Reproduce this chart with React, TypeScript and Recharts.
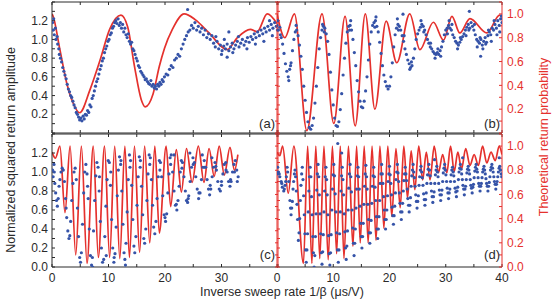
import { ComposedChart, Scatter, Line, XAxis, YAxis } from 'recharts';

const FONT = '"Liberation Sans", Arial, sans-serif';
const RED = '#e5312d';
const BLUE = '#3553a8';
const INK = '#2a2a2a';

const xTicks = [0, 5, 10, 15, 20, 25, 30, 35, 40];
const leftTicks = [0, 0.1, 0.2, 0.3, 0.4, 0.5, 0.6, 0.7, 0.8, 0.9, 1.0, 1.1, 1.2, 1.3, 1.4];
const rightTicks = [0, 0.1, 0.2, 0.3, 0.4, 0.5, 0.6, 0.7, 0.8, 0.9, 1.0, 1.1];
const upperLeftLabels = [0.2, 0.4, 0.6, 0.8, 1.0, 1.2];
const lowerLeftLabels = [0, 0.2, 0.4, 0.6, 0.8, 1.0, 1.2];
const upperRightLabels = [0.2, 0.4, 0.6, 0.8, 1.0];
const lowerRightLabels = [0, 0.2, 0.4, 0.6, 0.8, 1.0];
const cXLabels = [0, 10, 20, 30];
const dXLabels = [0, 10, 20, 30, 40];

// (a) measured
const aDots = [
  [0.1, 1.18], [0.2, 1.1], [0.3, 1.22], [0.4, 1.05], [0.6, 1.12], [0.7, 1.0], [0.9, 1.03], [1.0, 0.95], [1.2, 0.9], [1.3, 0.84],
  [1.5, 0.8], [1.7, 0.76], [1.9, 0.7], [2.1, 0.66], [2.3, 0.62], [2.5, 0.58], [2.7, 0.52], [2.9, 0.47], [3.1, 0.44], [3.3, 0.4],
  [3.5, 0.38], [3.7, 0.34], [3.9, 0.3], [4.1, 0.27], [4.3, 0.22], [4.5, 0.2], [4.7, 0.17], [4.9, 0.14], [5.1, 0.16], [5.3, 0.13],
  [5.5, 0.18], [5.7, 0.15], [5.9, 0.2], [6.1, 0.19], [6.3, 0.24], [6.5, 0.22], [6.7, 0.3], [6.9, 0.28], [7.1, 0.37], [7.3, 0.4],
  [7.5, 0.45], [7.7, 0.5], [7.9, 0.55], [8.1, 0.58], [8.3, 0.63], [8.5, 0.68], [8.7, 0.72], [8.9, 0.77], [9.1, 0.8], [9.3, 0.86],
  [9.5, 0.9], [9.7, 0.93], [9.9, 0.98], [10.1, 1.0], [10.3, 1.05], [10.5, 1.07], [10.7, 1.12], [10.9, 1.14], [11.1, 1.18], [11.3, 1.2],
  [11.5, 1.17], [11.7, 1.22], [11.9, 1.15], [12.1, 1.18], [12.3, 1.12], [12.5, 1.16], [12.7, 1.08], [12.9, 1.12], [13.1, 1.05], [13.3, 1.02],
  [13.5, 1.06], [13.7, 0.98], [13.9, 0.95], [14.1, 0.97], [14.3, 0.9], [14.5, 0.88], [14.7, 0.84], [14.9, 0.8], [15.1, 0.77], [15.3, 0.72],
  [15.5, 0.7], [15.7, 0.66], [15.9, 0.64], [16.1, 0.62], [16.3, 0.6], [16.5, 0.57], [16.7, 0.58], [16.9, 0.55], [17.1, 0.53], [17.3, 0.52],
  [17.5, 0.56], [17.7, 0.5], [17.9, 0.52], [18.1, 0.48], [18.3, 0.5], [18.5, 0.47], [18.7, 0.52], [18.9, 0.5], [19.1, 0.54], [19.3, 0.52],
  [19.5, 0.57], [19.7, 0.55], [19.9, 0.6], [20.2, 0.63], [20.5, 0.62], [20.8, 0.68], [21.1, 0.72], [21.4, 0.7], [21.7, 0.78], [22.0, 0.8],
  [22.3, 0.84], [22.6, 0.82], [22.9, 0.9], [23.2, 0.95], [23.5, 1.0], [23.8, 1.04], [24.0, 1.32], [24.1, 1.08], [24.4, 1.1], [24.7, 1.15],
  [25.0, 1.12], [25.3, 1.18], [25.6, 1.1], [25.9, 1.14], [26.2, 1.08], [26.5, 1.12], [26.8, 1.05], [27.1, 1.1], [27.4, 1.02], [27.7, 1.06],
  [28.0, 1.0], [28.3, 1.04], [28.6, 0.96], [28.9, 0.92], [29.0, 1.03], [29.2, 0.98], [29.5, 0.9], [29.8, 0.94], [30.0, 0.84], [30.1, 0.88],
  [30.4, 0.93], [30.5, 1.0], [30.7, 0.9], [31.0, 0.95], [31.0, 0.81], [31.3, 0.88], [31.3, 1.08], [31.6, 0.92], [31.9, 0.96], [32.0, 0.86],
  [32.2, 0.9], [32.5, 0.94], [32.8, 0.98], [33.0, 1.03], [33.1, 0.92], [33.4, 0.96], [33.7, 1.0], [34.0, 0.94], [34.3, 0.98], [34.5, 0.9],
  [34.6, 1.02], [34.9, 0.97], [35.2, 1.03], [35.5, 1.0], [35.8, 1.06], [36.0, 0.95], [36.1, 1.02], [36.4, 1.08], [36.7, 1.04], [37.0, 1.1],
  [37.3, 1.06], [37.5, 0.98], [37.6, 1.12], [37.9, 1.08], [38.2, 1.14], [38.5, 1.1], [38.5, 1.2], [38.8, 1.16], [39.0, 1.04], [39.1, 1.12],
  [39.4, 1.18], [39.7, 1.14], [39.9, 1.1],
];
// (a) theory
const aTheory = [
  [0, 1.0], [0.2, 0.98], [1.4, 0.7], [2.6, 0.42], [3.75, 0.25], [4.9, 0.17], [6.7, 0.36], [8.5, 0.61], [10.2, 0.87], [12.2, 0.99],
  [13.4, 0.89], [14.6, 0.56], [15.8, 0.28], [16.5, 0.22], [17.9, 0.33], [19.0, 0.56], [19.9, 0.71], [21.3, 0.87], [23.4, 1.0], [25.4, 0.95],
  [27.8, 0.84], [31.0, 0.7], [32.8, 0.8], [35.1, 0.87], [36.3, 0.85], [38.1, 1.0], [39.8, 0.92],
];

// (b) measured
const bDots = [
  [0.0, 1.15], [0.25, 1.1], [0.5, 1.13], [0.75, 1.02], [1.0, 0.95], [1.25, 0.85], [1.5, 0.74], [1.75, 0.66], [2.0, 0.6], [2.25, 0.68],
  [2.5, 0.75], [2.75, 0.88], [3.0, 1.0], [3.25, 1.08], [3.5, 1.1], [3.75, 1.04], [4.0, 0.94], [4.25, 0.82], [4.5, 0.68], [4.75, 0.5],
  [5.0, 0.35], [5.25, 0.22], [5.5, 0.12], [5.75, 0.06], [6.0, 0.04], [6.25, 0.08], [6.5, 0.16], [6.75, 0.32], [7.0, 0.5], [7.25, 0.7],
  [7.5, 0.9], [7.75, 1.02], [8.0, 1.1], [8.25, 1.14], [8.5, 1.12], [8.75, 1.06], [9.0, 0.98], [9.25, 0.84], [9.5, 0.65], [9.75, 0.46],
  [10.0, 0.3], [10.25, 0.16], [10.5, 0.08], [10.75, 0.07], [11.0, 0.12], [11.25, 0.25], [11.5, 0.42], [11.75, 0.62], [12.0, 0.8], [12.25, 0.96],
  [12.5, 1.08], [12.75, 1.14], [13.0, 1.15], [13.25, 1.1], [13.5, 1.0], [13.75, 0.86], [14.0, 0.72], [14.25, 0.56], [14.5, 0.44], [14.75, 0.34],
  [15.0, 0.28], [15.25, 0.27], [15.5, 0.34], [15.75, 0.45], [16.0, 0.6], [16.25, 0.78], [16.5, 0.95], [16.75, 1.08], [17.0, 1.15], [17.25, 1.18],
  [17.5, 1.2], [17.75, 1.14], [18.0, 1.08], [18.25, 0.97], [18.5, 0.85], [18.75, 0.72], [19.0, 0.62], [19.25, 0.55], [19.5, 0.5], [19.75, 0.47],
  [20.0, 0.5], [20.25, 0.6], [20.5, 0.75], [20.75, 0.92], [21.0, 1.05], [21.25, 1.12], [21.5, 1.16], [21.75, 1.14], [22.0, 1.1], [22.25, 1.04],
  [22.5, 0.98], [22.75, 0.9], [23.0, 0.84], [23.25, 0.78], [23.5, 0.74], [23.75, 0.7], [24.0, 0.72], [24.25, 0.8], [24.5, 0.9], [24.75, 1.0],
  [25.0, 1.06], [25.25, 1.1], [25.5, 1.13], [25.75, 1.16], [26.0, 1.14], [26.25, 1.1], [26.5, 1.05], [26.75, 1.0], [27.0, 0.96], [27.25, 0.92],
  [27.5, 0.9], [27.75, 0.87], [28.0, 0.85], [28.25, 0.84], [28.5, 0.86], [28.75, 0.84], [29.0, 0.88], [29.25, 0.92], [29.5, 0.98], [29.75, 1.05],
  [30.0, 1.1], [30.25, 1.12], [30.5, 1.15], [30.75, 1.12], [31.0, 1.1], [31.25, 1.05], [31.5, 1.02], [31.75, 0.98], [32.0, 0.96], [32.25, 0.94],
  [32.5, 0.97], [32.75, 1.0], [33.0, 1.03], [33.25, 1.06], [33.5, 1.1], [33.75, 1.13], [34.0, 1.16], [34.25, 1.12], [34.5, 1.18], [34.75, 1.14],
  [35.0, 1.1], [35.25, 1.05], [35.5, 1.0], [35.75, 0.98], [36.0, 0.96], [36.25, 1.0], [36.5, 0.94], [36.75, 0.98], [37.0, 1.02], [37.25, 0.97],
  [37.5, 1.04], [37.75, 1.08], [38.0, 1.05], [38.25, 1.12], [38.5, 1.1], [38.75, 1.16], [39.0, 1.12], [39.25, 1.2], [39.5, 1.15], [39.75, 1.22],
  [40.0, 1.18],
  [0.1, 1.2], [0.6, 1.05], [2.1, 0.56], [2.4, 0.72], [3.4, 1.15], [8.1, 1.16], [8.4, 1.08], [12.9, 1.1], [13.1, 1.2], [17.4, 1.13],
  [17.6, 1.24], [21.4, 1.22], [21.6, 1.1], [22.4, 1.27], [22.6, 1.04], [23.6, 0.68], [23.9, 0.76], [25.6, 1.2], [26.1, 1.08], [27.3, 0.96],
  [28.1, 0.8], [28.6, 0.9], [29.1, 0.82], [30.3, 1.06], [30.6, 1.2], [31.1, 1.16], [32.1, 0.9], [32.6, 1.02], [33.6, 1.04], [34.1, 1.1],
  [34.2, 1.3], [35.1, 1.16], [35.6, 0.92], [36.1, 1.02], [36.2, 0.82], [36.6, 0.9], [37.1, 0.95], [37.6, 1.1], [38.1, 0.98], [38.6, 1.2],
  [39.1, 1.05], [39.6, 1.08], [39.9, 1.25],
];
// (b) theory
const bTheory = [
  [0, 1.0], [1.4, 0.8], [3.1, 1.0], [5.3, 0.02], [8.0, 1.0], [10.1, 0.08], [12.1, 0.98], [13.9, 0.06], [15.7, 1.0], [17.4, 0.2],
  [19.4, 0.94], [21.3, 0.59], [23.6, 1.0], [25.4, 0.7], [27.8, 0.93], [29.6, 0.78], [31.1, 0.98], [32.5, 0.84], [34.3, 0.96], [37.3, 0.84],
  [39.6, 0.99], [40, 0.98],
];

// (c) measured
const cDots = [
  [0.1, 1.02], [0.2, 0.95], [0.35, 1.08], [0.5, 0.88], [0.65, 0.78], [0.8, 0.7], [0.95, 0.64], [1.1, 0.72], [1.25, 0.85], [1.4, 0.92],
  [1.6, 1.0], [1.8, 1.04], [2.0, 1.02], [2.2, 0.9], [2.4, 0.72], [2.6, 0.52], [2.8, 0.38], [3.0, 0.3], [3.15, 0.33], [3.3, 0.48],
  [3.5, 0.7], [3.7, 0.88], [3.9, 1.0], [4.1, 1.04], [4.3, 0.92], [4.5, 0.62], [4.7, 0.32], [4.9, 0.1], [5.05, 0.05], [5.2, 0.15],
  [5.4, 0.45], [5.6, 0.78], [5.8, 1.0], [6.0, 1.08], [6.2, 0.98], [6.4, 0.72], [6.6, 0.4], [6.8, 0.12], [7.0, 0.02], [7.15, 0.1],
  [7.35, 0.38], [7.55, 0.7], [7.75, 0.96], [7.95, 1.1], [8.15, 1.05], [8.35, 0.8], [8.55, 0.48], [8.75, 0.2], [8.95, 0.05], [9.15, 0.08],
  [9.35, 0.32], [9.55, 0.64], [9.75, 0.92], [9.95, 1.12], [10.15, 1.1], [10.35, 0.86], [10.55, 0.5], [10.75, 0.2], [10.95, 0.05], [11.15, 0.14],
  [11.35, 0.42], [11.55, 0.75], [11.75, 1.02], [11.95, 1.16], [12.15, 1.08], [12.35, 0.8], [12.55, 0.45], [12.75, 0.15], [12.9, 0.08], [13.1, 0.25],
  [13.3, 0.58], [13.5, 0.92], [13.7, 1.18], [13.9, 1.12], [14.1, 0.86], [14.3, 0.5], [14.5, 0.22], [14.65, 0.15], [14.85, 0.32], [15.05, 0.65],
  [15.25, 0.95], [15.45, 1.16], [15.65, 1.12], [15.85, 0.85], [16.05, 0.55], [16.25, 0.3], [16.4, 0.25], [16.6, 0.4], [16.8, 0.7], [17.0, 0.98],
  [17.2, 1.18], [17.4, 1.15], [17.6, 0.92], [17.8, 0.65], [18.0, 0.42], [18.2, 0.35], [18.4, 0.48], [18.6, 0.72], [18.8, 0.95], [19.0, 1.12],
  [19.2, 1.1], [19.4, 0.95], [19.6, 0.75], [19.85, 0.55], [20.1, 0.48], [20.3, 0.56], [20.5, 0.78], [20.7, 0.98], [20.9, 1.15], [21.1, 1.18],
  [21.35, 1.0], [21.6, 0.8], [21.85, 0.65], [22.1, 0.6], [22.3, 0.7], [22.5, 0.85], [22.7, 1.0], [22.9, 1.12], [23.1, 1.1], [23.35, 0.95],
  [23.6, 0.8], [23.8, 0.7], [24.0, 0.68], [24.2, 0.75], [24.45, 0.9], [24.7, 1.05], [24.95, 1.15], [25.2, 1.1], [25.45, 0.95], [25.7, 0.82],
  [25.95, 0.72], [26.2, 0.78], [26.45, 0.92], [26.7, 1.05], [26.95, 1.12], [27.2, 1.05], [27.45, 0.92], [27.7, 0.82], [27.9, 0.76], [28.1, 0.82],
  [28.35, 0.95], [28.6, 1.05], [28.85, 1.1], [29.1, 1.02], [29.35, 0.9], [29.6, 0.82], [29.8, 0.8], [30.0, 0.86], [30.25, 0.98], [30.5, 1.08],
  [30.75, 1.1], [31.0, 1.0], [31.25, 0.9], [31.5, 0.85], [31.7, 0.9], [31.95, 1.0], [32.2, 1.08], [32.45, 1.12], [32.7, 1.02], [32.95, 0.95],
  [0.4, 1.0], [2.5, 0.62], [6.3, 0.85], [7.2, 0.0], [8.4, 0.95], [9.6, 0.12], [10.4, 1.0], [11.0, 0.1], [12.2, 1.12], [13.0, 0.02],
  [13.8, 1.05], [15.6, 1.05], [17.3, 1.08], [19.1, 1.02], [20.0, 0.52], [21.0, 1.08], [21.6, 1.18], [22.0, 0.66], [23.0, 1.04], [24.1, 0.72],
  [24.4, 1.2], [25.0, 1.08], [26.0, 0.78], [26.6, 1.18], [27.0, 1.05], [28.0, 0.86], [28.3, 1.15], [29.0, 1.06], [30.0, 0.9], [30.8, 1.02],
  [31.6, 0.92], [32.3, 1.0], [32.8, 0.9],
];
// (c) theory
const cTheory = [
  [0, 0.95], [0.6, 0.9], [1.4, 1.0], [2.3, 0.45], [3.2, 1.0], [4.2, 0.1], [5.2, 1.0], [6.2, 0.03], [7.3, 1.0], [8.2, 0.08],
  [9.3, 1.0], [10.2, 0.08], [11.1, 1.0], [12.0, 0.07], [12.9, 1.0], [13.7, 0.08], [14.6, 1.0], [15.5, 0.12], [16.4, 1.0], [17.3, 0.2],
  [18.2, 1.0], [19.0, 0.28], [20.2, 1.0], [21.0, 0.5], [22.0, 0.97], [22.9, 0.62], [23.8, 0.98], [24.8, 0.7], [25.9, 1.0], [26.9, 0.7],
  [27.8, 0.98], [28.7, 0.75], [29.6, 1.0], [30.5, 0.76], [31.5, 0.99], [32.3, 0.8], [32.9, 0.93],
];

// (d) measured
const dDots = [
  [0.0, 0.98], [0.25, 1.0], [0.5, 0.95], [0.75, 0.9], [0.95, 0.84], [1.2, 0.8], [1.43, 0.86], [1.66, 0.95], [1.9, 1.0], [2.1, 0.9],
  [2.3, 0.7], [2.5, 0.55], [2.73, 0.69], [2.96, 0.9], [3.2, 1.02], [3.43, 0.8], [3.66, 0.5],
  [3.8, 0.28], [4.03, 0.51], [4.26, 0.86], [4.5, 1.05], [4.73, 0.75], [4.96, 0.35],
  [5.2, 0.05], [5.43, 0.35], [5.66, 0.8], [5.9, 1.05], [6.13, 0.74], [6.36, 0.32],
  [6.6, 0.0], [6.83, 0.32], [7.06, 0.81], [7.3, 1.08], [7.53, 0.76], [7.76, 0.35],
  [8.0, 0.03], [8.23, 0.34], [8.46, 0.8], [8.7, 1.05], [8.93, 0.76], [9.16, 0.33],
  [9.4, 0.02], [9.63, 0.34], [9.86, 0.82], [10.1, 1.08], [10.35, 0.77], [10.6, 0.36],
  [10.9, 0.05], [11.13, 0.35], [11.36, 0.8], [11.6, 1.05], [11.83, 0.76], [12.06, 0.37],
  [12.3, 0.08], [12.53, 0.38], [12.76, 0.83], [13.0, 1.08], [13.23, 0.79], [13.46, 0.41],
  [13.7, 0.12], [13.93, 0.4], [14.16, 0.82], [14.4, 1.05], [14.63, 0.82], [14.86, 0.46],
  [15.1, 0.2], [15.33, 0.46], [15.56, 0.85], [15.8, 1.07], [16.03, 0.82], [16.26, 0.5],
  [16.5, 0.25], [16.73, 0.49], [16.96, 0.85], [17.2, 1.05], [17.43, 0.84], [17.66, 0.53],
  [17.9, 0.3], [18.13, 0.53], [18.36, 0.88], [18.6, 1.08], [18.83, 0.88], [19.06, 0.6],
  [19.3, 0.4], [19.53, 0.6], [19.76, 0.9], [20.0, 1.06], [20.23, 0.88], [20.46, 0.63],
  [20.7, 0.45], [20.93, 0.64], [21.16, 0.92], [21.4, 1.08], [21.63, 0.9], [21.86, 0.67],
  [22.1, 0.5], [22.33, 0.67], [22.56, 0.91], [22.8, 1.05], [23.03, 0.91], [23.26, 0.72],
  [23.5, 0.58], [23.73, 0.73], [23.96, 0.96], [24.2, 1.08], [24.43, 0.94], [24.66, 0.76],
  [24.9, 0.62], [25.13, 0.75], [25.36, 0.95], [25.6, 1.06], [25.83, 0.94], [26.06, 0.77],
  [26.3, 0.65], [26.53, 0.78], [26.76, 0.97], [27.0, 1.08], [27.23, 0.96], [27.46, 0.8],
  [27.7, 0.68], [27.93, 0.79], [28.16, 0.97], [28.4, 1.06], [28.63, 0.95], [28.86, 0.81],
  [29.1, 0.7], [29.33, 0.81], [29.56, 0.99], [29.8, 1.08], [30.03, 0.97], [30.26, 0.83],
  [30.5, 0.72], [30.73, 0.82], [30.96, 0.97], [31.2, 1.05], [31.43, 0.96], [31.66, 0.83],
  [31.9, 0.74], [32.13, 0.84], [32.36, 1.0], [32.6, 1.08], [32.83, 0.98], [33.06, 0.86],
  [33.3, 0.76], [33.53, 0.85], [33.76, 0.99], [34.0, 1.06], [34.23, 0.98], [34.46, 0.86],
  [34.7, 0.78], [34.93, 0.87], [35.16, 1.01], [35.4, 1.08], [35.63, 1.0], [35.86, 0.88],
  [36.1, 0.8], [36.33, 0.88], [36.56, 1.0], [36.8, 1.06], [37.03, 0.98], [37.26, 0.88],
  [37.5, 0.8], [37.73, 0.89], [37.96, 1.02], [38.2, 1.08], [38.43, 1.0], [38.66, 0.9],
  [38.9, 0.82], [39.13, 0.9], [39.36, 1.0], [39.6, 1.06], [39.85, 0.98],
  // second sweep
  [0.12, 1.05], [0.4, 0.98], [0.85, 0.88], [1.3, 0.82], [1.55, 0.9], [1.8, 1.05],
  [2.4, 0.62], [2.62, 0.62], [2.85, 0.82], [3.1, 0.98], [3.3, 0.95], [3.55, 0.66],
  [3.92, 0.36], [4.15, 0.7], [4.38, 0.98], [4.62, 0.92], [4.85, 0.55], [5.08, 0.18],
  [5.32, 0.18], [5.55, 0.58], [5.78, 0.95], [6.02, 0.95], [6.25, 0.55], [6.48, 0.15],
  [6.72, 0.12], [6.95, 0.56], [7.18, 0.98], [7.42, 0.95], [7.65, 0.56], [7.88, 0.15],
  [8.12, 0.16], [8.35, 0.58], [8.58, 0.95], [8.82, 0.92], [9.05, 0.55], [9.28, 0.14],
  [9.52, 0.15], [9.75, 0.6], [9.98, 0.97], [10.22, 0.96], [10.48, 0.58], [10.75, 0.18],
  [11.02, 0.18], [11.25, 0.58], [11.48, 0.96], [11.72, 0.92], [11.95, 0.56], [12.18, 0.2],
  [12.42, 0.22], [12.65, 0.6], [12.88, 0.98], [13.12, 0.95], [13.35, 0.6], [13.58, 0.25],
  [13.82, 0.25], [14.05, 0.62], [14.28, 0.96], [14.52, 0.95], [14.75, 0.64], [14.98, 0.32],
  [15.22, 0.32], [15.45, 0.66], [15.68, 0.98], [15.92, 0.95], [16.15, 0.66], [16.38, 0.36],
  [16.62, 0.36], [16.85, 0.67], [17.08, 0.96], [17.32, 0.95], [17.55, 0.7], [17.78, 0.4],
  [18.02, 0.4], [18.25, 0.7], [18.48, 0.98], [18.72, 0.98], [18.95, 0.74], [19.18, 0.5],
  [19.42, 0.5], [19.65, 0.75], [19.88, 0.98], [20.12, 0.97], [20.35, 0.76], [20.58, 0.54],
  [20.82, 0.54], [21.05, 0.78], [21.28, 1.0], [21.52, 0.99], [21.75, 0.78], [21.98, 0.58],
  [22.22, 0.58], [22.45, 0.8], [22.68, 0.98], [22.92, 0.98], [23.15, 0.82], [23.38, 0.65],
  [23.62, 0.65], [23.85, 0.85], [24.08, 1.02], [24.32, 1.0], [24.55, 0.85], [24.78, 0.69],
  [25.02, 0.69], [25.25, 0.86], [25.48, 1.02], [25.72, 1.0], [25.95, 0.86], [26.18, 0.71],
  [26.42, 0.71], [26.65, 0.88], [26.88, 1.03], [27.12, 1.02], [27.35, 0.88], [27.58, 0.74],
  [27.82, 0.74], [28.05, 0.88], [28.28, 1.02], [28.52, 1.0], [28.75, 0.88], [28.98, 0.76],
  [29.22, 0.76], [29.45, 0.9], [29.68, 1.04], [29.92, 1.02], [30.15, 0.9], [30.38, 0.78],
  [30.62, 0.78], [30.85, 0.9], [31.08, 1.02], [31.32, 1.0], [31.55, 0.9], [31.78, 0.79],
  [32.02, 0.8], [32.25, 0.92], [32.48, 1.04], [32.72, 1.03], [32.95, 0.92], [33.18, 0.82],
  [33.42, 0.82], [33.65, 0.92], [33.88, 1.03], [34.12, 1.02], [34.35, 0.92], [34.58, 0.83],
  [34.82, 0.84], [35.05, 0.94], [35.28, 1.05], [35.52, 1.03], [35.75, 0.94], [35.98, 0.85],
  [36.22, 0.85], [36.45, 0.94], [36.68, 1.03], [36.92, 1.02], [37.15, 0.93], [37.38, 0.85],
  [37.62, 0.85], [37.85, 0.95], [38.08, 1.05], [38.32, 1.04], [38.55, 0.95], [38.78, 0.87],
  [39.02, 0.87], [39.25, 0.95], [39.48, 1.04], [39.72, 1.02], [39.95, 0.95],
  [10.8, 1.3], [11.5, 1.2], [28.0, 1.13], [33.0, 1.15], [39.5, 1.15],
];
// (d) theory
const dTheory = [
  [0, 0.95], [0.5, 0.92], [1.0, 1.0], [2.0, 0.61], [3.0, 1.0], [4.7, 0.03], [5.45, 1.0], [6.2, 0.03], [6.9, 1.0], [7.6, 0.07],
  [8.35, 1.0], [9.1, 0.06], [9.85, 1.0], [10.6, 0.11], [11.25, 1.0], [11.9, 0.07], [12.7, 1.0], [13.5, 0.17], [14.15, 1.0], [14.8, 0.2],
  [15.5, 1.0], [16.2, 0.2], [16.9, 1.0], [17.6, 0.22], [18.3, 1.0], [19.0, 0.32], [19.7, 1.0], [20.4, 0.42], [21.15, 0.98], [21.9, 0.49],
  [22.55, 1.0], [23.2, 0.57], [23.85, 0.96], [24.5, 0.64], [25.2, 1.0], [25.9, 0.72], [26.55, 0.95], [27.2, 0.72], [27.95, 1.0], [28.7, 0.78],
  [29.45, 0.93], [30.2, 0.78], [30.85, 1.0], [31.5, 0.79], [32.15, 0.95], [32.8, 0.81], [33.55, 0.98], [34.3, 0.84], [35.05, 0.93], [35.8, 0.84],
  [36.55, 1.0], [37.3, 0.86], [38.05, 0.95], [38.8, 0.88], [39.5, 1.0], [40, 0.93],
];

const W = 554;
const H = 305;

const near = (list: number[], v: number) => list.some((l) => Math.abs(l - v) < 1e-6);

const mkTick = (labels: number[], fill: string, anchor: string, fmt: (v: number) => string, dy: string) =>
  (p: any) => {
    const v = p.payload.value;
    if (!near(labels, v)) return <g />;
    return (
      <text x={p.x} y={p.y} dy={dy} textAnchor={anchor} fill={fill} fontSize={12} fontFamily={FONT}>
        {fmt(v)}
      </text>
    );
  };

const blank = () => <g />;

const dot = (p: any) => <circle cx={p.cx} cy={p.cy} r={1.6} fill={BLUE} />;

interface PanelProps {
  x1: number;
  x2: number;
  y1: number;
  y2: number;
  dots: number[][];
  theory: number[][];
  leftColor: string;
  leftLabels: number[];
  rightLabels: number[];
  xLabels: number[];
}

function Panel({ x1, x2, y1, y2, dots, theory, leftColor, leftLabels, rightLabels, xLabels }: PanelProps) {
  const scatter = dots.map(([x, y]) => ({ x, y }));
  const curve = theory.map(([x, r]) => ({ x, r }));
  return (
    <div style={{ position: 'absolute', left: 0, top: 0 }}>
      <ComposedChart
        width={W}
        height={H}
        margin={{ left: x1 - 40, right: W - x2 - 40, top: y1 - 2, bottom: H - y2 - 20 }}
      >
        <XAxis
          dataKey="x"
          type="number"
          domain={[0, 40]}
          ticks={xTicks}
          interval={0}
          allowDataOverflow
          height={20}
          stroke={INK}
          tickSize={-3}
          tickMargin={9}
          tick={mkTick(xLabels, INK, 'middle', (v) => String(v), '0.75em')}
        />
        <XAxis
          xAxisId="top"
          orientation="top"
          dataKey="x"
          type="number"
          domain={[0, 40]}
          ticks={xTicks}
          interval={0}
          allowDataOverflow
          height={2}
          stroke={INK}
          tickSize={-3}
          tick={blank}
        />
        <YAxis
          yAxisId="L"
          type="number"
          domain={[0, 1.4]}
          ticks={leftTicks}
          interval={0}
          allowDataOverflow
          width={40}
          stroke={leftColor}
          tickSize={-3}
          tickMargin={7}
          tick={mkTick(leftLabels, INK, 'end', (v) => v.toFixed(1), '0.35em')}
        />
        <YAxis
          yAxisId="R"
          orientation="right"
          type="number"
          domain={[0, 1.1]}
          ticks={rightTicks}
          interval={0}
          allowDataOverflow
          width={40}
          stroke={RED}
          tickSize={-3}
          tickMargin={8}
          tick={mkTick(rightLabels, RED, 'start', (v) => v.toFixed(1), '0.35em')}
        />
        <Scatter data={scatter} dataKey="y" yAxisId="L" shape={dot} isAnimationActive={false} />
        <Line
          data={curve}
          dataKey="r"
          yAxisId="R"
          type="monotone"
          stroke={RED}
          strokeWidth={1.7}
          dot={false}
          activeDot={false}
          isAnimationActive={false}
        />
      </ComposedChart>
    </div>
  );
}

export default function App() {
  return (
    <div style={{ position: 'absolute', left: 0, top: 0, width: W, height: H, background: '#fff', fontFamily: FONT }}>
      <Panel x1={52} x2={278} y1={2} y2={133} dots={aDots} theory={aTheory} leftColor={INK}
        leftLabels={upperLeftLabels} rightLabels={[]} xLabels={[]} />
      <Panel x1={277} x2={502} y1={2} y2={133} dots={bDots} theory={bTheory} leftColor={RED}
        leftLabels={[]} rightLabels={upperRightLabels} xLabels={[]} />
      <Panel x1={52} x2={278} y1={134} y2={267} dots={cDots} theory={cTheory} leftColor={INK}
        leftLabels={lowerLeftLabels} rightLabels={[]} xLabels={cXLabels} />
      <Panel x1={277} x2={502} y1={134} y2={267} dots={dDots} theory={dTheory} leftColor={RED}
        leftLabels={[]} rightLabels={lowerRightLabels} xLabels={dXLabels} />
      <svg width={W} height={H} style={{ position: 'absolute', left: 0, top: 0, pointerEvents: 'none' }}>
        <g fontFamily={FONT} fontSize={12.5}>
          <text transform="translate(15,150) rotate(-90)" textAnchor="middle" fill={INK}>
            Normalized squared return amplitude
          </text>
          <text transform="translate(548,137) rotate(-90)" textAnchor="middle" fill={RED}>
            Theoretical return probability
          </text>
          <text x={282} y={296} textAnchor="middle" fill={INK}>
            Inverse sweep rate 1/β (μs/V)
          </text>
        </g>
        <g fontFamily={FONT} fontSize={13} fill={INK} textAnchor="end">
          <text x={275} y={128}>(a)</text>
          <text x={500} y={128}>(b)</text>
          <text x={275} y={259}>(c)</text>
          <text x={500} y={259}>(d)</text>
        </g>
      </svg>
    </div>
  );
}
